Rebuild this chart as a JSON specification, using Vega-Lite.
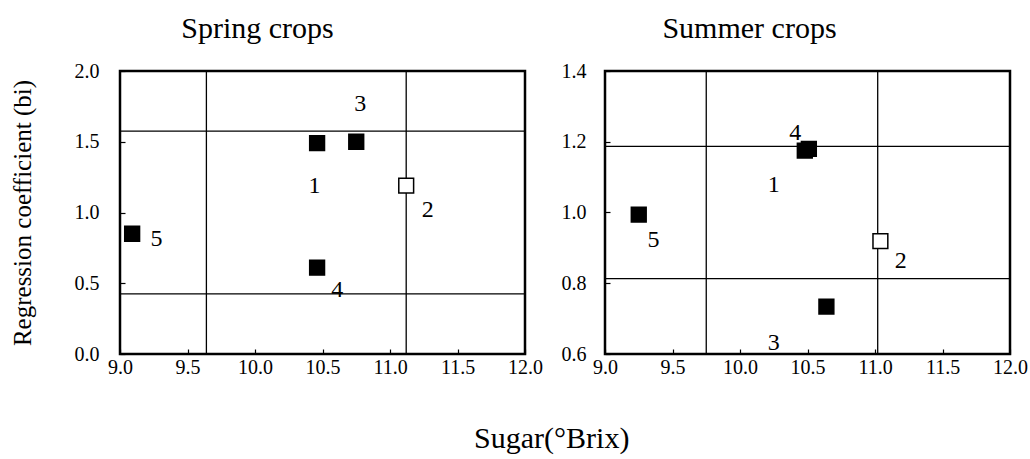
{
  "$schema": "https://vega.github.io/schema/vega-lite/v6.json",
  "background": "white",
  "padding": {"left": 8, "top": 12, "right": 14, "bottom": 4},
  "spacing": 80,
  "bounds": "flush",
  "config": {
    "font": "Liberation Serif",
    "view": {"stroke": "black", "strokeWidth": 2.5},
    "axis": {
      "labelFont": "Liberation Serif",
      "labelFontSize": 20,
      "labelColor": "black",
      "tickColor": "black",
      "tickSize": -5,
      "tickWidth": 1.2,
      "domain": false,
      "grid": false,
      "labelFlush": false,
      "labelOverlap": false,
      "labelBound": false,
      "titleFont": "Liberation Serif",
      "titleFontWeight": "normal",
      "titleColor": "black"
    },
    "title": {"font": "Liberation Serif", "fontSize": 30, "fontWeight": "normal", "color": "black"}
  },
  "title": {
    "text": "Sugar(°Brix)",
    "orient": "bottom",
    "anchor": "middle",
    "fontSize": 30,
    "offset": 46,
    "dx": 33
  },
  "datasets": {
    "spring_points": [
      {"id": "1", "sugar": 10.46, "bi": 1.49, "marker": "filled"},
      {"id": "2", "sugar": 11.12, "bi": 1.19, "marker": "open"},
      {"id": "3", "sugar": 10.75, "bi": 1.5, "marker": "filled"},
      {"id": "4", "sugar": 10.46, "bi": 0.61, "marker": "filled"},
      {"id": "5", "sugar": 9.09, "bi": 0.85, "marker": "filled"}
    ],
    "spring_labels": [
      {"id": "1", "sugar": 10.44, "bi": 1.19},
      {"id": "2", "sugar": 11.28, "bi": 1.02},
      {"id": "3", "sugar": 10.78, "bi": 1.77},
      {"id": "4", "sugar": 10.61, "bi": 0.45},
      {"id": "5", "sugar": 9.27, "bi": 0.81}
    ],
    "spring_vlines": [{"sugar": 9.64}, {"sugar": 11.12}],
    "spring_hlines": [{"bi": 1.575}, {"bi": 0.425}],
    "summer_points": [
      {"id": "1", "sugar": 10.48, "bi": 1.175, "marker": "filled"},
      {"id": "2", "sugar": 11.04, "bi": 0.919, "marker": "open"},
      {"id": "3", "sugar": 10.64, "bi": 0.734, "marker": "filled"},
      {"id": "4", "sugar": 10.51, "bi": 1.18, "marker": "filled"},
      {"id": "5", "sugar": 9.25, "bi": 0.994, "marker": "filled"}
    ],
    "summer_labels": [
      {"id": "1", "sugar": 10.25, "bi": 1.077},
      {"id": "2", "sugar": 11.19, "bi": 0.864},
      {"id": "3", "sugar": 10.25, "bi": 0.63},
      {"id": "4", "sugar": 10.41, "bi": 1.225},
      {"id": "5", "sugar": 9.36, "bi": 0.923}
    ],
    "summer_vlines": [{"sugar": 9.75}, {"sugar": 11.02}],
    "summer_hlines": [{"bi": 1.187}, {"bi": 0.813}]
  },
  "hconcat": [
    {
      "width": 405,
      "height": 283,
      "title": {"text": "Spring crops", "dx": -65, "baseline": "alphabetic", "offset": -7},
      "layer": [
        {
          "data": {"name": "spring_vlines"},
          "mark": {"type": "rule", "color": "black", "strokeWidth": 1.3},
          "encoding": {
            "x": {"field": "sugar", "type": "quantitative", "scale": {"domain": [9, 12], "nice": false, "zero": false},
              "axis": {"title": null, "values": [9, 9.25, 9.5, 9.75, 10, 10.25, 10.5, 10.75, 11, 11.25, 11.5, 11.75, 12],
                "labelExpr": "(datum.value * 2) % 1 == 0 ? format(datum.value, '.1f') : ''", "labelPadding": 8}}
          }
        },
        {
          "data": {"name": "spring_hlines"},
          "mark": {"type": "rule", "color": "black", "strokeWidth": 1.3},
          "encoding": {
            "y": {"field": "bi", "type": "quantitative", "scale": {"domain": [0, 2], "nice": false, "zero": false},
              "axis": {"title": "Regression coefficient (bi)", "titleFontSize": 25, "titlePadding": 39,
                "values": [0, 0.25, 0.5, 0.75, 1, 1.25, 1.5, 1.75, 2],
                "labelExpr": "(datum.value * 2) % 1 == 0 ? format(datum.value, '.1f') : ''", "labelPadding": 26}}
          }
        },
        {
          "data": {"name": "spring_points"},
          "mark": {"type": "point", "shape": "square", "filled": true, "size": 220, "stroke": "black", "strokeWidth": 1.5, "opacity": 1},
          "encoding": {
            "x": {"field": "sugar", "type": "quantitative"},
            "y": {"field": "bi", "type": "quantitative"},
            "fill": {"field": "marker", "type": "nominal", "scale": {"domain": ["filled", "open"], "range": ["black", "white"]}, "legend": null}
          }
        },
        {
          "data": {"name": "spring_labels"},
          "mark": {"type": "text", "fontSize": 24, "font": "Liberation Serif", "color": "black"},
          "encoding": {
            "x": {"field": "sugar", "type": "quantitative"},
            "y": {"field": "bi", "type": "quantitative"},
            "text": {"field": "id", "type": "nominal"}
          }
        }
      ]
    },
    {
      "width": 405,
      "height": 283,
      "title": {"text": "Summer crops", "dx": -58, "baseline": "alphabetic", "offset": -7},
      "layer": [
        {
          "data": {"name": "summer_vlines"},
          "mark": {"type": "rule", "color": "black", "strokeWidth": 1.3},
          "encoding": {
            "x": {"field": "sugar", "type": "quantitative", "scale": {"domain": [9, 12], "nice": false, "zero": false},
              "axis": {"title": null, "values": [9, 9.25, 9.5, 9.75, 10, 10.25, 10.5, 10.75, 11, 11.25, 11.5, 11.75, 12],
                "labelExpr": "(datum.value * 2) % 1 == 0 ? format(datum.value, '.1f') : ''", "labelPadding": 8}}
          }
        },
        {
          "data": {"name": "summer_hlines"},
          "mark": {"type": "rule", "color": "black", "strokeWidth": 1.3},
          "encoding": {
            "y": {"field": "bi", "type": "quantitative", "scale": {"domain": [0.6, 1.4], "nice": false, "zero": false},
              "axis": {"title": null,
                "values": [0.6, 0.7, 0.8, 0.9, 1.0, 1.1, 1.2, 1.3, 1.4],
                "labelExpr": "abs(datum.value * 5 - round(datum.value * 5)) < 0.01 ? format(datum.value, '.1f') : ''", "labelPadding": 24}}
          }
        },
        {
          "data": {"name": "summer_points"},
          "mark": {"type": "point", "shape": "square", "filled": true, "size": 220, "stroke": "black", "strokeWidth": 1.5, "opacity": 1},
          "encoding": {
            "x": {"field": "sugar", "type": "quantitative"},
            "y": {"field": "bi", "type": "quantitative"},
            "fill": {"field": "marker", "type": "nominal", "scale": {"domain": ["filled", "open"], "range": ["black", "white"]}, "legend": null}
          }
        },
        {
          "data": {"name": "summer_labels"},
          "mark": {"type": "text", "fontSize": 24, "font": "Liberation Serif", "color": "black"},
          "encoding": {
            "x": {"field": "sugar", "type": "quantitative"},
            "y": {"field": "bi", "type": "quantitative"},
            "text": {"field": "id", "type": "nominal"}
          }
        }
      ]
    }
  ]
}
